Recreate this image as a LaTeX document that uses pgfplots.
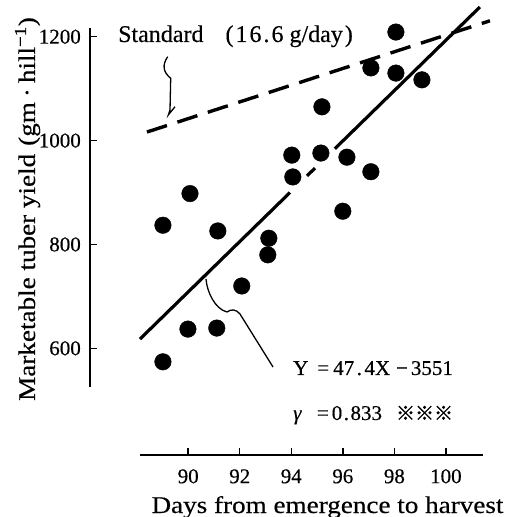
\documentclass[border=0pt]{standalone}
\usepackage{pgfplots}
\pgfplotsset{compat=1.18}
\usepackage{fontspec}
\setmainfont{Liberation Serif}[FakeBold=0.4]
\newfontfamily\widefont{Liberation Serif}[FakeStretch=1.13, FakeBold=0.4]
\newfontfamily\cjk{Noto Sans CJK JP}[FakeBold=1.5]

\begin{document}
\begin{tikzpicture}
\useasboundingbox (0pt,0pt) rectangle (516pt,517pt);
% ---- y axis, data and lines ----
\begin{axis}[
  at={(90pt,130pt)}, anchor=south west,
  scale only axis, x=25.77pt, y=0.5193pt,
  xmin=86.19, xmax=101.6, ymin=525.5, ymax=1216.8,
  axis x line=none, axis y line*=left,
  ytick={600,800,1000,1200},
  tick align=inside, major tick length=7pt,
  axis line style={line width=2.2pt, black},
  major tick style={line width=1.5pt, black},
  /pgf/number format/assume math mode=true,
  /pgf/number format/1000 sep={},
  yticklabel style={font=\fontsize{21}{24}\selectfont, anchor=east, inner sep=0pt, xshift=-9pt},
  ylabel={Marketable tuber yield\hspace{8pt}(gm\hspace{5pt}·\hspace{5pt}hill\textsuperscript{−1})},
  ylabel style={at={(axis description cs:-0.1385,0.4958)}, anchor=base, inner sep=0pt,
    font=\widefont\fontsize{24}{28}\selectfont},
  clip=false,
]
% observations
\addplot[only marks, mark=*, mark size=8.3pt, black] coordinates {
(89.02,837) (90.07,898) (91.15,826) (89.02,574) (89.99,637)
(91.11,639) (92.08,720) (98.06,1209) (97.09,1140) (98.06,1130)
(99.07,1117) (95.19,1065) (94.02,972) (95.15,976) (96.16,968)
(94.06,930) (97.09,940) (96.00,864) (93.13,812) (93.09,780)
};
% regression line Y = 47.4X - 3551 (drawn with print gaps)
\addplot[line width=3.2pt, black] coordinates {(88.13,617.9) (93.95,900.0)};
\addplot[line width=3.2pt, black] coordinates {(94.61,932.0) (94.92,947.0)};
\addplot[line width=3.2pt, black] coordinates {(95.69,984.3) (101.32,1257.2)};
% standard line
\addplot[line width=3.4pt, black, dash pattern=on 21pt off 11pt] coordinates {(88.40,1016.5) (101.71,1230.7)};
\end{axis}
% ---- x axis ----
\begin{axis}[
  at={(140pt,62pt)}, anchor=south west,
  scale only axis, x=25.77pt, y=1pt,
  xmin=88.13, xmax=101.44, ymin=0, ymax=1,
  axis y line=none, axis x line*=bottom,
  xtick={90,92,94,96,98,100},
  tick align=inside, major tick length=7pt,
  axis line style={line width=2.4pt, black},
  major tick style={line width=1.5pt, black},
  /pgf/number format/assume math mode=true,
  xticklabel style={font=\fontsize{21}{24}\selectfont, anchor=north, inner sep=0pt, text height=28pt},
  xlabel={Days from emergence to harvest},
  xlabel style={at={(axis description cs:0.5,0)}, anchor=base, xshift=16pt, yshift=-58pt,
    inner sep=0pt, font=\widefont\fontsize{24}{28}\selectfont},
  clip=false,
]
\end{axis}
% ---- annotations ----
\node[anchor=base west, inner sep=0pt, font=\fontsize{24}{28}\selectfont] at (118pt,475pt)
  {Standard\hspace{22pt}(\kern2pt1\kern2pt6\kern2pt.\kern2pt6\kern6pt g/day\kern2pt)};
\draw[line width=1.3pt] (167.7pt,460.3pt) .. controls (162pt,452pt) and (163pt,445pt) .. (170.7pt,438.7pt)
  -- (170pt,407pt) -- (168.3pt,402pt) -- (175pt,410.3pt);
\draw[line width=1.3pt] (206pt,238pt) .. controls (207pt,225pt) and (215pt,208pt) .. (227pt,205pt)
  .. controls (231pt,208pt) and (236pt,208pt) .. (240pt,203pt) -- (273pt,150pt);
\node[anchor=base west, inner sep=0pt, font=\fontsize{21}{24}\selectfont] at (293pt,142pt)
  {Y\kern9pt=\kern4pt 47\kern2.5pt.\kern2.5pt4X\kern6pt−\kern3pt3551};
\node[anchor=base west, inner sep=0pt, font=\fontsize{21}{24}\selectfont] at (293pt,97pt)
  {\textit{γ}\kern15pt=\kern3pt0\kern1.5pt.\kern1.5pt833\kern14pt{\cjk\fontsize{19}{20}\selectfont ※※※}};
\end{tikzpicture}
\end{document}
